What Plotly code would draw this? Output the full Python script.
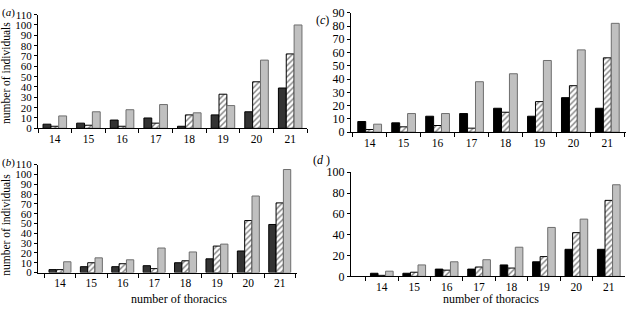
import plotly.graph_objects as go

categories = ["14", "15", "16", "17", "18", "19", "20", "21"]

a_black = [4, 5, 8, 10, 2, 13, 16, 39]
a_hatch = [2, 3, 2, 5, 13, 33, 45, 72]
a_gray = [12, 16, 18, 23, 15, 22, 66, 100]

b_black = [3, 6, 6, 7, 10, 14, 22, 49]
b_hatch = [3, 10, 9, 4, 12, 27, 53, 71]
b_gray = [11, 15, 13, 25, 21, 29, 78, 105]

c_black = [8, 7, 12, 14, 18, 12, 26, 18]
c_hatch = [2, 4, 5, 3, 15, 23, 35, 56]
c_gray = [6, 14, 14, 38, 44, 54, 62, 82]

d_black = [3, 3, 7, 7, 11, 14, 26, 26]
d_hatch = [1, 4, 6, 9, 8, 19, 42, 73]
d_gray = [5, 11, 14, 16, 28, 47, 55, 88]

W, H = 628, 313
FONT = "Liberation Serif"

def px_x(p):
    return p / W

def px_y(p):
    return 1 - p / H

panels = [
    # name, black, hatch, gray, darkcolor, xdom px, ybottom px, ytop px, yrange, dtick, xrange, ytick font
    ("a", a_black, a_hatch, a_gray, "#333333", (38, 307), 127, 8, 110, 10, [-0.5, 7.5], 11),
    ("c", c_black, c_hatch, c_gray, "#000000", (351, 626), 131, 6, 90, 10, [-0.55, 7.55], 12),
    ("b", b_black, b_hatch, b_gray, "#333333", (38, 297), 278, 165, 110, 10, [-0.7, 7.55], 11),
    ("d", d_black, d_hatch, d_gray, "#000000", (351, 625), 282, 173, 100, 20, [-0.95, 7.5], 12),
]

fig = go.Figure()
layout = {}
for i, (name, blk, hat, gry, dark, xd, yb, yt, ymax, dt, xr, yfs) in enumerate(panels):
    n = "" if i == 0 else str(i + 1)
    xa, ya = "x" + n, "y" + n
    fig.add_trace(go.Bar(x=categories, y=blk, xaxis=xa, yaxis=ya,
                         marker=dict(color=dark, line=dict(color="#000000", width=1))))
    fig.add_trace(go.Bar(x=categories, y=hat, xaxis=xa, yaxis=ya,
                         marker=dict(color="white", line=dict(color="#000000", width=1),
                                     pattern=dict(shape="/", fgcolor="#000000", bgcolor="white",
                                                  size=4, solidity=0.35, fillmode="overlay"))))
    fig.add_trace(go.Bar(x=categories, y=gry, xaxis=xa, yaxis=ya,
                         marker=dict(color="#c0c0c0", line=dict(color="#6e6e6e", width=1))))
    layout["xaxis" + n] = dict(
        domain=[px_x(xd[0]), px_x(xd[1])], anchor=ya, type="category",
        range=xr, showline=True, linecolor="black", linewidth=1,
        ticks="outside", tickson="boundaries", ticklen=4, tickcolor="black",
        showgrid=False, zeroline=False,
        tickfont=dict(family=FONT, size=11.5, color="black"), fixedrange=True)
    layout["yaxis" + n] = dict(
        domain=[px_y(yb), px_y(yt)], anchor=xa, range=[0, ymax], dtick=dt,
        showline=True, linecolor="black", linewidth=1, ticks="outside", ticklen=3,
        tickcolor="black", showgrid=False, zeroline=False,
        tickfont=dict(family=FONT, size=yfs, color="black"), fixedrange=True)

annotations = []
def ann(text, x, y, size=12, angle=0, xanchor="center"):
    annotations.append(dict(text=text, x=x / W, y=1 - y / H, xref="paper", yref="paper",
                            showarrow=False, textangle=angle, xanchor=xanchor, yanchor="middle",
                            font=dict(family=FONT, size=size, color="black")))

ann("(<i>a</i>)", 0, 6, size=11, xanchor="left")
ann("(<i>c</i>)", 314, 14, xanchor="left")
ann("(<i>b</i>)", 0, 163, size=11, xanchor="left")
ann("(<i>d</i> )", 311, 160, xanchor="left")
ann("number of individuals", 6, 69, size=11.5, angle=-90)
ann("number of individuals", 6, 228, size=11.5, angle=-90)
ann("number of thoracics", 179, 306)
ann("number of thoracics", 491, 306)

fig.update_layout(
    width=W, height=H, margin=dict(l=0, r=0, t=0, b=0),
    paper_bgcolor="white", plot_bgcolor="white",
    barmode="group", bargap=0.3, bargroupgap=0,
    showlegend=False, annotations=annotations, **layout)

fig.write_html("out.html", config={"displayModeBar": False},
               post_script="document.body.style.margin='0';document.body.style.overflow='hidden';")
